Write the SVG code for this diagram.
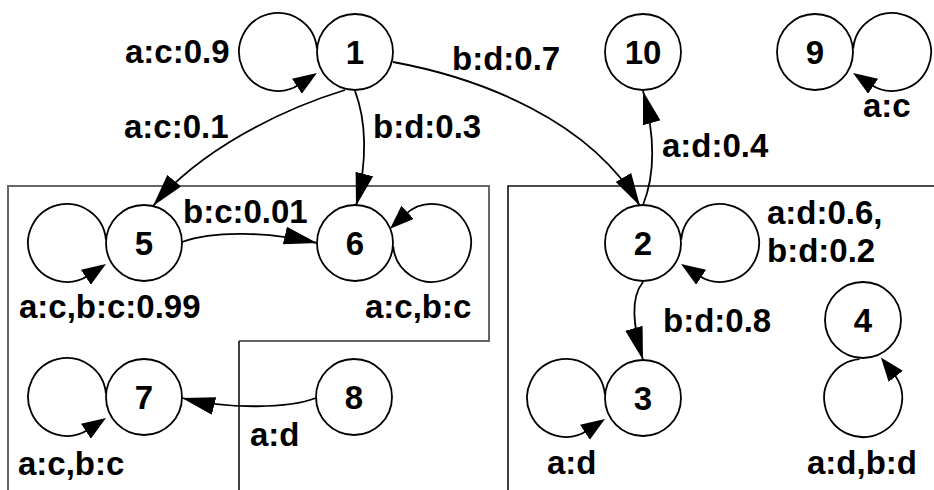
<svg xmlns="http://www.w3.org/2000/svg" width="934" height="490" viewBox="0 0 934 490">
  <style>
    .node circle { fill: #ffffff; stroke: #000000; stroke-width: 1.8; }
    .node text, .lbl { font-family: "Liberation Sans", Arial, Helvetica, sans-serif; font-weight: bold; font-size: 33px; fill: #000000; }
    .node text { text-anchor: middle; }
    .edge { fill: none; stroke: #000000; stroke-width: 1.8; marker-end: url(#arrow); }
    .loop { fill: none; stroke: #000000; stroke-width: 1.8; marker-end: url(#loopArrow); }
    .boxA { fill: none; stroke: #666666; stroke-width: 2; }
    .boxB { fill: none; stroke: #111111; stroke-width: 1.6; }
  </style>
  <defs>
    <!-- long arrowhead for edges between states; tip sits at the path end -->
    <marker id="arrow" markerUnits="userSpaceOnUse" markerWidth="34" markerHeight="18" viewBox="0 0 34 18" refX="33" refY="9" orient="auto">
      <path d="M0,0 L33,9 L0,18 Z" fill="#000000"/>
    </marker>
    <!-- arrowhead for self loops; base sits just before the path end -->
    <marker id="loopArrow" markerUnits="userSpaceOnUse" markerWidth="26" markerHeight="20" viewBox="0 0 26 20" refX="3" refY="9" orient="auto">
      <path d="M0,0 L24,9 L0,18 Z" fill="#000000"/>
    </marker>
  </defs>

  <rect width="934" height="490" fill="#ffffff"/>

  <!-- group outlines -->
  <g id="groups">
    <path class="boxA" d="M8,490 V186 H489 V341 H239"/>
    <path class="boxB" d="M239,341 V490"/>
    <path class="boxB" d="M508,490 V186 H934"/>
  </g>

  <!-- transitions -->
  <g id="connectors">
    <path class="edge" d="M345,90 C280,110 200,150 153,206"/>
    <path class="edge" d="M355,91 C366,120 368,160 356,206"/>
    <path class="edge" d="M393,62 C480,78 590,120 640,206"/>
    <path class="edge" d="M643,205 C655,175 655,135 643,91"/>
    <path class="edge" d="M643,282 C630,298 633,325 643,360"/>
    <path class="edge" d="M182,242 C215,230 270,232 317,243"/>
    <path class="edge" d="M316,398 C290,408 230,410 182,398"/>

    <!-- self loops -->
    <path class="loop" d="M316.9,48.6 A39,39 0 1 0 299.4,84.6"/>
    <path class="loop" d="M105.9,239.6 A39,39 0 1 0 88.4,275.6"/>
    <path class="loop" d="M105.9,393.6 A39,39 0 1 0 88.4,429.6"/>
    <path class="loop" d="M604.9,394.6 A39,39 0 1 0 587.4,430.6"/>
    <path class="loop" d="M681.2,239.6 A39,39 0 1 1 698.6,275.6"/>
    <path class="loop" d="M853.2,48.6 A39,39 0 1 1 870.6,84.6"/>
    <path class="loop" d="M393.2,246.4 A39,39 0 1 0 405.4,214.4"/>
    <path class="loop" d="M859.6,359.2 A39,39 0 1 0 893.9,374"/>

    <!-- transition labels -->
    <text class="lbl" x="125" y="63">a:c:0.9</text>
    <text class="lbl" x="124" y="138">a:c:0.1</text>
    <text class="lbl" x="373" y="138">b:d:0.3</text>
    <text class="lbl" x="452" y="70">b:d:0.7</text>
    <text class="lbl" x="662" y="157">a:d:0.4</text>
    <text class="lbl" x="863" y="117">a:c</text>
    <text class="lbl" x="183" y="223">b:c:0.01</text>
    <text class="lbl" x="19" y="318">a:c,b:c:0.99</text>
    <text class="lbl" x="365" y="318">a:c,b:c</text>
    <text class="lbl" x="767" y="224">a:d:0.6,</text>
    <text class="lbl" x="767" y="262">b:d:0.2</text>
    <text class="lbl" x="663" y="332">b:d:0.8</text>
    <text class="lbl" x="250" y="446">a:d</text>
    <text class="lbl" x="18" y="475">a:c,b:c</text>
    <text class="lbl" x="547" y="474">a:d</text>
    <text class="lbl" x="807" y="474">a:d,b:d</text>
  </g>

  <!-- states -->
  <g id="n1" class="node"><circle cx="355" cy="52" r="38"/><text x="355" y="64">1</text></g>
  <g id="n2" class="node"><circle cx="643" cy="243" r="38"/><text x="643" y="255">2</text></g>
  <g id="n3" class="node"><circle cx="643" cy="398" r="38"/><text x="643" y="410">3</text></g>
  <g id="n4" class="node"><circle cx="863" cy="320" r="38"/><text x="863" y="332">4</text></g>
  <g id="n5" class="node"><circle cx="144" cy="243" r="38"/><text x="144" y="255">5</text></g>
  <g id="n6" class="node"><circle cx="355" cy="243" r="38"/><text x="355" y="255">6</text></g>
  <g id="n7" class="node"><circle cx="144" cy="397" r="38"/><text x="144" y="409">7</text></g>
  <g id="n8" class="node"><circle cx="354" cy="397" r="38"/><text x="354" y="409">8</text></g>
  <g id="n9" class="node"><circle cx="815" cy="52" r="38"/><text x="815" y="64">9</text></g>
  <g id="n10" class="node"><circle cx="643" cy="52" r="38"/><text x="643" y="64">10</text></g>
</svg>
